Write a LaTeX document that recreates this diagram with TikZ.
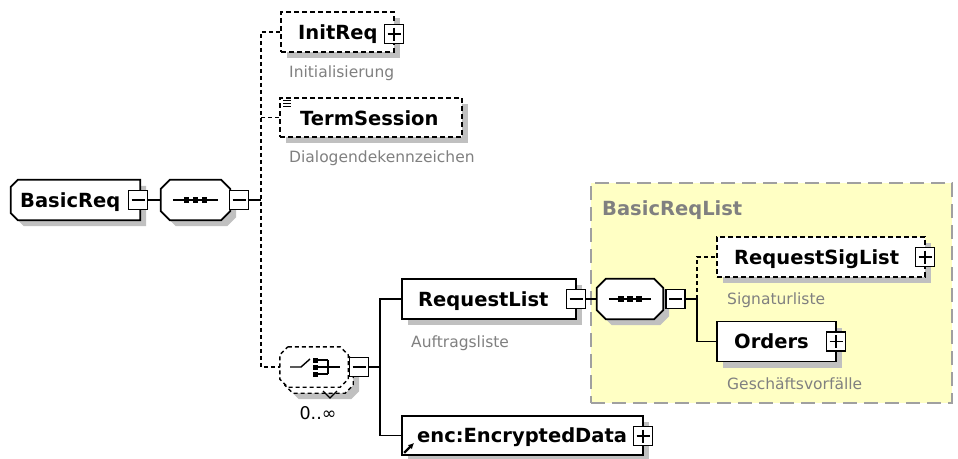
\documentclass[tikz,border=0pt]{standalone}
\usepackage{fontspec}
\setmainfont{DejaVu Sans}
\usetikzlibrary{arrows.meta}
\definecolor{shad}{HTML}{C0C0C0}
\definecolor{grpfill}{HTML}{FFFFC4}
\definecolor{grpline}{HTML}{A0A0A0}
\definecolor{lbl}{HTML}{808080}
\newcommand\octo[3]{%
  \path[#3] ([xshift=#2]#1.north west) -- ([xshift=-#2]#1.north east) -- ([yshift=-#2]#1.north east) -- ([yshift=#2]#1.south east) -- ([xshift=-#2]#1.south east) -- ([xshift=#2]#1.south west) -- ([yshift=#2]#1.south west) -- ([yshift=-#2]#1.north west) -- cycle;}
\newcommand\seqicon[1]{%
  \draw[line width=1.3pt] ([xshift=12pt]#1.west) -- ([xshift=-12pt]#1.east);
  \foreach \dx in {-9,0,9} {\fill ([shift={(\dx pt-2.8pt,-2.8pt)}]#1.center) rectangle ++(5.6pt,5.6pt);}}
\tikzset{
  x=1pt, y=-1pt,
  shadowed/.style={preaction={draw=none, fill=shad, transform canvas={xshift=6pt, yshift=-6pt}}},
  elem/.style={draw, line width=1.7pt, fill=white, inner sep=0, shadowed},
  optelem/.style={elem, dash pattern=on 5pt off 3pt},
  hold/.style={draw=none, inner sep=0},
  sbox/.style={draw, line width=1.4pt, fill=white, minimum width=19pt, minimum height=19pt, inner sep=0},
  minusbox/.style={sbox, path picture={\draw[line width=1.2pt] ([xshift=3pt]path picture bounding box.west) -- ([xshift=-3pt]path picture bounding box.east);}},
  plusbox/.style={sbox, path picture={\draw[line width=1.2pt] ([xshift=3pt]path picture bounding box.west) -- ([xshift=-3pt]path picture bounding box.east) ([yshift=-3pt]path picture bounding box.north) -- ([yshift=3pt]path picture bounding box.south);}},
  elname/.style={font=\fontsize{19.5}{20}\selectfont\bfseries, inner sep=0, anchor=base west},
  lblnote/.style={font=\fontsize{15.5}{16}\selectfont, text=lbl, inner sep=0, anchor=base west},
  conn/.style={line width=1.5pt},
  dconn/.style={line width=1.6pt, dash pattern=on 4pt off 3pt},
}
\begin{document}
\begin{tikzpicture}
\useasboundingbox (0,0) rectangle (958,458);
\fill[white] (0,0) rectangle (958,458);

% group BasicReqList
\node[draw=grpline, fill=grpfill, line width=2.2pt, dash pattern=on 14pt off 7pt, minimum width=361pt, minimum height=220pt, inner sep=0] (grp) at (771.5,293) {};
\node[lblnote, font=\fontsize{19.5}{20}\selectfont\bfseries] (grpl) at (602,215) {BasicReqList};

% root element
\node[hold, minimum width=129pt, minimum height=40pt] (root) at (75.5,200) {};
\path[fill=shad, transform canvas={xshift=6pt, yshift=-6pt}] ([xshift=7pt]root.north west) -- (root.north east) -- (root.south east) -- ([xshift=7pt]root.south west) -- ([yshift=7pt]root.south west) -- ([yshift=-7pt]root.north west) -- cycle;
\path[draw, line width=1.7pt, fill=white] ([xshift=7pt]root.north west) -- (root.north east) -- (root.south east) -- ([xshift=7pt]root.south west) -- ([yshift=7pt]root.south west) -- ([yshift=-7pt]root.north west) -- cycle;
\node[elname] (roott) at (20,207) {BasicReq};
\node[minusbox] (rootm) at (138,200) {};

% sequence 1
\node[hold, minimum width=69pt, minimum height=40pt] (seq1) at (195.5,200) {};
\octo{seq1}{9pt}{fill=shad, transform canvas={xshift=6pt, yshift=-6pt}}
\octo{seq1}{9pt}{draw, line width=1.7pt, fill=white}
\seqicon{seq1}
\node[minusbox] (seq1m) at (239,200) {};
\draw[conn] (rootm.east) -- (seq1.west);
\coordinate (vj) at (261,200);
\draw[conn] (seq1m.east) -- (vj);

% InitReq
\node[optelem, minimum width=113pt, minimum height=40pt] (init) at (337.5,32) {};
\node[elname] (initt) at (298,39) {InitReq};
\node[plusbox] (initp) at (394,34) {};
\node[lblnote] (initn) at (289,77) {Initialisierung};

% TermSession
\node[optelem, minimum width=182pt, minimum height=39pt] (term) at (371,117.5) {};
\node[elname] (termt) at (300,125) {TermSession};
\foreach \dy in {3,6,9} {\draw[line width=1pt] ([shift={(4pt,-\dy pt)}]term.north west) -- ++(8pt,0pt);}
\node[lblnote] (termn) at (289,162) {Dialogendekennzeichen};

% choice
\node[hold, minimum width=68pt, minimum height=40pt] (choice) at (314,367) {};
\node[hold, minimum width=68pt, minimum height=40pt] (choiceb) at (319,373) {};
\octo{choiceb}{8pt}{fill=shad, transform canvas={xshift=6pt, yshift=-6pt}}
\octo{choiceb}{8pt}{draw, line width=1.4pt, dash pattern=on 4pt off 3pt, fill=white}
\octo{choice}{8pt}{draw, line width=1.4pt, dash pattern=on 4pt off 3pt, fill=white}
\draw[line width=1.3pt] (323,391) -- (330,398) -- (337,391);
\draw[line width=1.4pt] (290,367) -- (301,367) -- (310,359);
\foreach \yy in {358,365,372} {\fill (312.5,\yy) rectangle (318,\yy+4.5);}
\draw[line width=1.3pt] (318,360) -- (328,360) (318,367) -- (340,367) (318,374) -- (328,374) (328,360) -- (328,374);
\node[minusbox] (chm) at (359,367) {};
\node[font=\fontsize{17.5}{18}\selectfont, inner sep=0, anchor=base] (occ) at (318,419) {0..∞};

% dashed trunk
\coordinate (vt) at (261,32);
\coordinate (vb) at (261,367);
\draw[dconn] (init.west) -- (vt) -- (vb) -- (choice.west);
\draw[dconn] (term.west) -- (term.west -| vt);

% RequestList
\node[elem, minimum width=174pt, minimum height=40pt] (rl) at (489,299) {};
\node[elname] (rlt) at (418,306) {RequestList};
\node[minusbox] (rlm) at (576,299) {};
\node[lblnote] (rln) at (411,347) {Auftragsliste};

% enc:EncryptedData
\node[elem, minimum width=241pt, minimum height=39pt] (enc) at (522.5,435.5) {};
\node[elname] (enct) at (417,442) {enc:EncryptedData};
\node[plusbox] (encp) at (643,436) {};
\draw[line width=2.2pt, -{Latex[length=6pt,width=6pt]}] ([shift={(3pt,3pt)}]enc.south west) -- ++(10pt,10pt);

% choice branches
\coordinate (cv) at (380,367);
\draw[conn] (chm.east) -- (cv);
\draw[conn] (rl.west) -| (cv) |- (enc.west);

% sequence 2
\node[hold, minimum width=66pt, minimum height=40pt] (seq2) at (630,299) {};
\octo{seq2}{9pt}{fill=shad, transform canvas={xshift=6pt, yshift=-6pt}}
\octo{seq2}{9pt}{draw, line width=1.7pt, fill=white}
\seqicon{seq2}
\node[minusbox] (seq2m) at (675.5,299) {};
\draw[conn] (rlm.east) -- (seq2.west);

% RequestSigList
\node[optelem, minimum width=208pt, minimum height=40pt] (rsl) at (821,257) {};
\node[elname] (rslt) at (734,264) {RequestSigList};
\node[plusbox] (rslp) at (925,257) {};
\node[lblnote] (rsln) at (727,304) {Signaturliste};

% Orders
\node[elem, minimum width=119pt, minimum height=40pt] (ord) at (776.5,341.5) {};
\node[elname] (ordt) at (734,348) {Orders};
\node[plusbox] (ordp) at (836,341.5) {};
\node[lblnote] (ordn) at (727,389) {Geschäftsvorfälle};

\coordinate (gv) at (697,299);
\draw[conn] (seq2m.east) -- (gv) |- (ord.west);
\draw[dconn] (gv) |- (rsl.west);
\end{tikzpicture}
\end{document}
